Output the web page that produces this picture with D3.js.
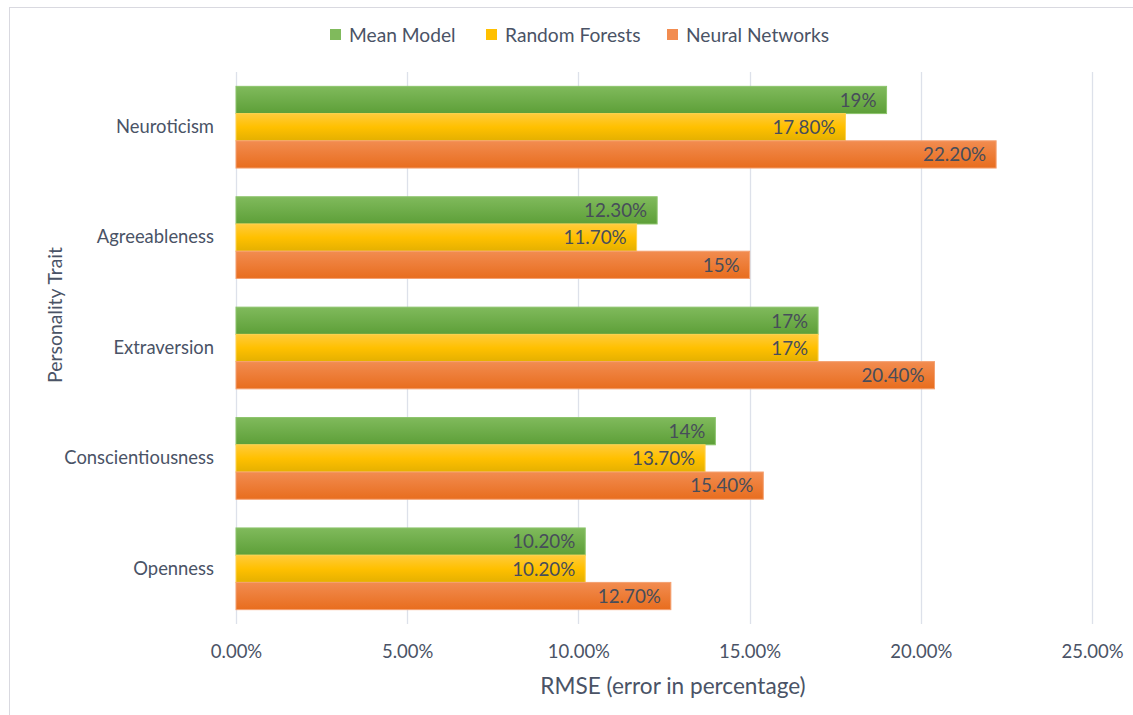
<!DOCTYPE html>
<html><head><meta charset="utf-8">
<script src="https://cdn.jsdelivr.net/npm/d3@7"></script>
<style>body{margin:0;background:#fff;} svg{display:block;font-family:Lato,"Open Sans",sans-serif;}</style>
</head><body>
<svg id="c" width="1133" height="715"></svg>
<script>
const categories = ["Neuroticism","Agreeableness","Extraversion","Conscientiousness","Openness"];
const seriesNames = ["Mean Model","Random Forests","Neural Networks"];
const meanModel = [19, 12.3, 17, 14, 10.2];
const randomForests = [17.8, 11.7, 17, 13.7, 10.2];
const neuralNetworks = [22.2, 15, 20.4, 15.4, 12.7];
const labelsMean = ["19%","12.30%","17%","14%","10.20%"];
const labelsRF = ["17.80%","11.70%","17%","13.70%","10.20%"];
const labelsNN = ["22.20%","15%","20.40%","15.40%","12.70%"];
const xTicks = [0,5,10,15,20,25];

const series = [
  {name: seriesNames[0], values: meanModel, labels: labelsMean, grad: ["#80ba5c","#5d9f38"], stroke:"#8cc46b"},
  {name: seriesNames[1], values: randomForests, labels: labelsRF, grad: ["#ffcb3c","#ffc000","#e4b000"], stroke:"#ffd24d"},
  {name: seriesNames[2], values: neuralNetworks, labels: labelsNN, grad: ["#f28c50","#e86d1e"], stroke:"#f4a070"}
];

const svg = d3.select("#c");
const defs = svg.append("defs");
series.forEach((s,i)=>{
  const g = defs.append("linearGradient").attr("id","g"+i).attr("x1",0).attr("x2",0).attr("y1",0).attr("y2",1);
  s.grad.forEach((c,j)=>g.append("stop").attr("offset", (j/(s.grad.length-1))).attr("stop-color", c));
});

// border
svg.append("rect").attr("x",9.5).attr("y",7.5).attr("width",1140).attr("height",720)
  .attr("fill","none").attr("stroke","#d9d9e0").attr("stroke-width",1);

const x = d3.scaleLinear().domain([0,25]).range([236,1092]);
const y = d3.scaleBand().domain(categories).range([72,624]).paddingInner(0.26).paddingOuter(0.13);
const yi = d3.scaleBand().domain(seriesNames).range([0,y.bandwidth()]);

// gridlines
svg.append("g").selectAll("line").data(xTicks).join("line")
  .attr("x1",d=>Math.round(x(d))+0.5).attr("x2",d=>Math.round(x(d))+0.5)
  .attr("y1",72).attr("y2",624).attr("stroke","#dde1ea").attr("stroke-width",1.3);

// bars
series.forEach((s,i)=>{
  const g = svg.append("g");
  g.selectAll("rect").data(categories).join("rect")
    .attr("x", x(0)).attr("y", (d)=>y(d)+yi(s.name))
    .attr("width",(d,k)=>x(s.values[k])-x(0)).attr("height", yi.bandwidth())
    .attr("fill","url(#g"+i+")").attr("stroke",s.stroke).attr("stroke-width",1);
  g.selectAll("text").data(categories).join("text")
    .attr("x",(d,k)=>x(s.values[k])-10).attr("y",(d)=>y(d)+yi(s.name)+yi.bandwidth()/2)
    .attr("dy","0.36em").attr("text-anchor","end").attr("font-size",18.8).attr("fill","#474d5a")
    .text((d,k)=>s.labels[k]);
});

// x axis
const xa = d3.axisBottom(x).tickValues(xTicks).tickFormat(d=>d.toFixed(2)+"%").tickSize(0).tickPadding(0);
const gx = svg.append("g").attr("transform","translate(0,652)").call(xa);
gx.select(".domain").remove();
gx.selectAll("text").attr("font-size",18.5).attr("fill","#4a5366").attr("dy","0.35em").attr("font-family","Lato,sans-serif");

// y axis
const ya = d3.axisLeft(y).tickSize(0).tickPadding(0);
const gy = svg.append("g").attr("transform","translate(214,0)").call(ya);
gy.select(".domain").remove();
gy.selectAll("text").attr("font-size",18.4).attr("fill","#4a5366").attr("font-family","Lato,sans-serif");

// axis titles
svg.append("text").attr("x",673).attr("y",686).attr("dy","0.35em").attr("text-anchor","middle")
  .attr("font-size",22.6).attr("fill","#4a5366").text("RMSE (error in percentage)");
svg.append("text").attr("transform","translate(55,315) rotate(-90)").attr("dy","0.35em").attr("text-anchor","middle")
  .attr("font-size",19.4).attr("fill","#4a5366").text("Personality Trait");

// legend
const legX = [330, 486, 667];
const lg = svg.append("g");
series.forEach((s,i)=>{
  lg.append("rect").attr("x",legX[i]).attr("y",29).attr("width",11).attr("height",11).attr("fill",s.grad[s.grad.length>2?1:0]);
  lg.append("text").attr("x",legX[i]+19).attr("y",35).attr("dy","0.35em").attr("font-size",19.2).attr("fill","#4a5366").text(s.name);
});
</script>
</body></html>
